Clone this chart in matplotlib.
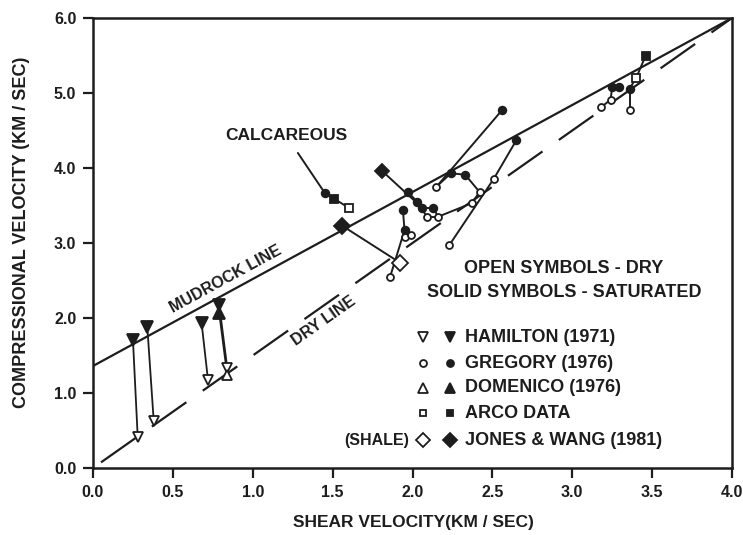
import numpy as np
import matplotlib.pyplot as plt

plt.rcParams['font.family'] = ['Liberation Sans', 'DejaVu Sans']
plt.rcParams['font.weight'] = 'bold'

INK = '#1d1d1d'

# reference lines (Vs, Vp in km/s)
mudrock_vs = [0.0, 4.0]
mudrock_vp = [1.36, 6.0]
dry_vs = [0.05, 4.0]
dry_vp = [0.075, 6.0]

# Hamilton (1971)
ham_sat_vs = [0.25, 0.34, 0.68, 0.79]
ham_sat_vp = [1.71, 1.88, 1.93, 2.18]
ham_dry_vs = [0.28, 0.38, 0.72, 0.84]
ham_dry_vp = [0.41, 0.63, 1.17, 1.34]

# Domenico (1976)
dom_sat_vs = [0.79]
dom_sat_vp = [2.07]
dom_dry_vs = [0.84]
dom_dry_vp = [1.24]

# Gregory (1976): points, dry flag and connecting segments
greg_vs = [2.56, 2.65, 2.15, 2.51, 2.24, 2.33, 2.42, 2.37, 1.97, 2.03,
           2.06, 2.13, 2.09, 2.16, 1.94, 1.95, 1.95, 1.99, 1.86, 2.23,
           3.25, 3.29, 3.36, 3.18, 3.24, 3.36, 1.45]
greg_vp = [4.77, 4.37, 3.75, 3.86, 3.93, 3.91, 3.68, 3.53, 3.68, 3.55,
           3.47, 3.47, 3.35, 3.35, 3.44, 3.17, 3.08, 3.11, 2.55, 2.97,
           5.08, 5.08, 5.06, 4.81, 4.91, 4.77, 3.67]
greg_dry = [0, 0, 1, 1, 0, 0, 1, 1, 0, 0,
            0, 0, 1, 1, 0, 0, 1, 1, 1, 1,
            0, 0, 0, 1, 1, 1, 0]
greg_links = [(0, 2), (1, 3), (2, 4), (4, 5), (5, 6), (6, 7), (7, 13),
              (13, 12), (9, 12), (11, 13), (8, 9), (9, 10), (10, 11),
              (14, 15), (15, 16), (15, 17), (15, 18), (19, 3),
              (20, 24), (24, 23), (22, 25)]

# ARCO data
arco_vs = [3.46, 3.40, 1.51, 1.60]
arco_vp = [5.50, 5.20, 3.59, 3.47]
arco_dry = [0, 1, 0, 1]

# Jones & Wang (1981), shale
jones_vs = [1.56, 1.92, 1.81]
jones_vp = [3.23, 2.74, 3.96]
jones_dry = [0, 1, 0]

fig = plt.figure(figsize=(7.43, 5.35), dpi=100)
ax = fig.add_axes([93 / 743, 67 / 535, 639 / 743, 450 / 535])
ax.set_xlim(0, 4)
ax.set_ylim(0, 6)

lw = 1.6
ax.plot(mudrock_vs, mudrock_vp, color=INK, lw=lw, zorder=2)
ax.plot(dry_vs, dry_vp, color=INK, lw=lw, ls=(0, (19, 9)), zorder=2)


def marker_kw(dry, size):
    return dict(ms=size, mec=INK, mew=1.3,
                mfc='white' if dry else INK, ls='none', zorder=4)


# Hamilton / Domenico arrows from saturated to dry
for sx, sy, dx, dy in zip(ham_sat_vs, ham_sat_vp, ham_dry_vs, ham_dry_vp):
    ax.plot([sx, dx], [sy, dy], color=INK, lw=1.3, zorder=3)
for sx, sy, dx, dy in zip(dom_sat_vs, dom_sat_vp, dom_dry_vs, dom_dry_vp):
    ax.plot([sx, dx], [sy, dy], color=INK, lw=1.3, zorder=3)
ax.plot(ham_sat_vs, ham_sat_vp, marker='v', **marker_kw(False, 8))
ax.plot(ham_dry_vs, ham_dry_vp, marker='v', **marker_kw(True, 7))
ax.plot(dom_sat_vs, dom_sat_vp, marker='^', **marker_kw(False, 8))
ax.plot(dom_dry_vs, dom_dry_vp, marker='^', **marker_kw(True, 7))

# Gregory
for i, j in greg_links:
    ax.plot([greg_vs[i], greg_vs[j]], [greg_vp[i], greg_vp[j]],
            color=INK, lw=1.4, zorder=3)
for x, y, d in zip(greg_vs, greg_vp, greg_dry):
    ax.plot([x], [y], marker='o', **marker_kw(d, 5.5 if not d else 5))

# ARCO, including the calcareous samples
ax.plot([arco_vs[0], arco_vs[1], greg_vs[22]],
        [arco_vp[0], arco_vp[1], greg_vp[22]], color=INK, lw=1.4, zorder=3)
ax.plot([greg_vs[26], arco_vs[2], arco_vs[3]],
        [greg_vp[26], arco_vp[2], arco_vp[3]], color=INK, lw=1.4, zorder=3)
for x, y, d in zip(arco_vs, arco_vp, arco_dry):
    ax.plot([x], [y], marker='s', **marker_kw(d, 5.5))

# Jones & Wang
ax.plot(jones_vs[:2], jones_vp[:2], color=INK, lw=1.4, zorder=3)
ax.plot([jones_vs[2], greg_vs[10]], [jones_vp[2], greg_vp[10]],
        color=INK, lw=1.4, zorder=3)
for k, (x, y, d) in enumerate(zip(jones_vs, jones_vp, jones_dry)):
    ax.plot([x], [y], marker='D', **marker_kw(d, 8 if k < 2 else 7))

# line annotations
ax.annotate('CALCAREOUS', xy=(greg_vs[26], greg_vp[26]), xytext=(1.21, 4.43),
            ha='center', va='center', fontsize=12.5, color=INK,
            arrowprops=dict(arrowstyle='-', color=INK, lw=1.4,
                            shrinkA=6, shrinkB=0))


def line_angle(xs, ys):
    p = ax.transData.transform(np.column_stack([xs, ys]))
    return np.degrees(np.arctan2(p[1, 1] - p[0, 1], p[1, 0] - p[0, 0]))


a_mud = line_angle(mudrock_vs, mudrock_vp)
a_dry = line_angle(dry_vs, dry_vp)
t = np.radians(a_mud)
ax.annotate('MUDROCK LINE', xy=(0.87, 1.36 + 1.16 * 0.87),
            xytext=(-9.5 * np.sin(t), 9.5 * np.cos(t)), textcoords='offset points',
            rotation=a_mud, rotation_mode='anchor', ha='center', va='center',
            fontsize=11.5, color=INK)
t = np.radians(a_dry)
ax.annotate('DRY LINE', xy=(1.40, 1.5 * 1.40),
            xytext=(9.5 * np.sin(t), -9.5 * np.cos(t)), textcoords='offset points',
            rotation=a_dry, rotation_mode='anchor', ha='center', va='center',
            fontsize=11.5, color=INK)

# legend block
ax.text(0.737, 0.444, 'OPEN SYMBOLS - DRY', transform=ax.transAxes,
        ha='center', va='center', fontsize=13, color=INK)
ax.text(0.737, 0.391, 'SOLID SYMBOLS - SATURATED', transform=ax.transAxes,
        ha='center', va='center', fontsize=13, color=INK)
legend_rows = [('v', 'HAMILTON (1971)', 0.291),
               ('o', 'GREGORY (1976)', 0.233),
               ('^', 'DOMENICO (1976)', 0.178),
               ('s', 'ARCO DATA', 0.122),
               ('D', 'JONES & WANG (1981)', 0.062)]
for m, label, yy in legend_rows:
    size = 5 if m in 'os' else 7
    ax.plot([0.516], [yy], marker=m, transform=ax.transAxes, clip_on=False,
            **marker_kw(True, size))
    ax.plot([0.559], [yy], marker=m, transform=ax.transAxes, clip_on=False,
            **marker_kw(False, size))
    ax.text(0.582, yy, label, transform=ax.transAxes, ha='left', va='center',
            fontsize=13, color=INK)
ax.text(0.495, 0.062, '(SHALE)', transform=ax.transAxes, ha='right',
        va='center', fontsize=11.5, color=INK)

# axes styling
for s in ax.spines.values():
    s.set_linewidth(1.8)
    s.set_color(INK)
ax.set_xticks(np.arange(0, 4.01, 0.5))
ax.set_yticks(np.arange(0, 6.01, 1.0))
ax.set_xticklabels([f'{v:.1f}' for v in np.arange(0, 4.01, 0.5)])
ax.set_yticklabels([f'{v:.1f}' for v in np.arange(0, 6.01, 1.0)])
ax.tick_params(direction='out', length=7, width=1.6, colors=INK,
               labelsize=11.5, pad=5)

fig.text(413 / 743, 1 - 522 / 535, 'SHEAR VELOCITY(KM / SEC)',
         ha='center', va='center', fontsize=12.5, color=INK)
fig.text(22 / 743, 1 - 232 / 535, 'COMPRESSIONAL VELOCITY (KM / SEC)',
         ha='center', va='center', rotation=90, fontsize=13, color=INK)

fig.savefig('out.png', dpi=100)
